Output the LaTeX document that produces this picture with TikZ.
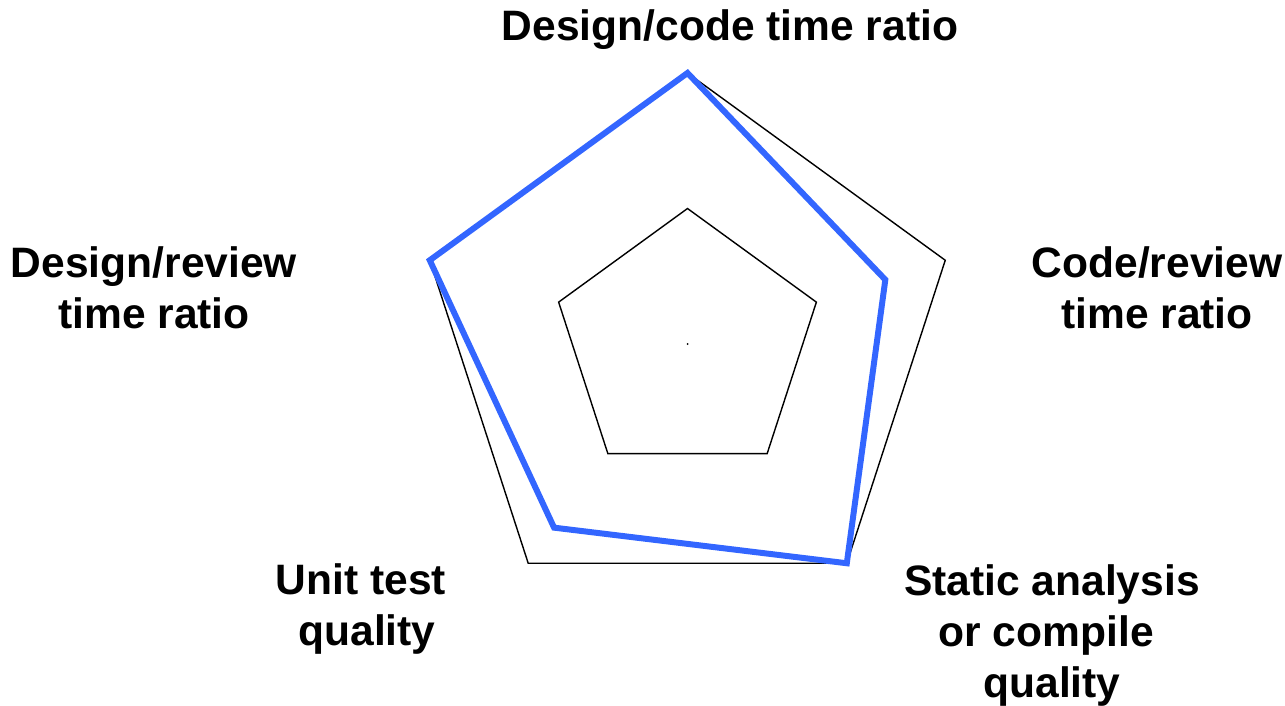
\documentclass[tikz,border=0pt]{standalone}
\usepackage{fontspec}
\setmainfont{Liberation Sans}
\usetikzlibrary{calc}
\definecolor{seriesblue}{RGB}{51,102,255}
\begin{document}
\begin{tikzpicture}[x=0.01cm,y=0.01cm,
  axislabel/.style={font=\bfseries\fontsize{12.1pt}{14.5pt}\selectfont, align=center, inner sep=0pt},
  gridline/.style={draw=black, line width=0.4pt, line join=miter},
  series/.style={draw=seriesblue, line width=1.7pt, line join=miter}]
\useasboundingbox (0,0) rectangle (1285,705);
\coordinate (c) at (687.5,361);
% grid pentagons (outer = full scale, inner = half scale)
\foreach \r/\n in {271/outer,135.5/inner}{
  \draw[gridline] ($(c)+(90:\r)$) -- ($(c)+(18:\r)$) -- ($(c)+(-54:\r)$)
    -- ($(c)+(-126:\r)$) -- ($(c)+(162:\r)$) -- cycle;
}
% centre mark
\fill (c) circle (1);
% data series
\draw[series] ($(c)+(90:271)$) -- ($(c)+(18:208)$) -- ($(c)+(-54:271)$)
  -- ($(c)+(-126:227)$) -- ($(c)+(162:271)$) -- cycle;
% axis labels
\node[axislabel] (top) at (730,675) {Design/code time ratio};
\node[axislabel] (right) at (1157,417) {Code/review\\time ratio};
\node[axislabel] (botright) at (1052,70) {Static analysis\\or compile\hphantom{ }\\quality};
\node[axislabel] (botleft) at (361,96) {Unit test\\\hphantom{i}quality};
\node[axislabel] (left) at (154,417) {Design/review\\time ratio};
\end{tikzpicture}
\end{document}
